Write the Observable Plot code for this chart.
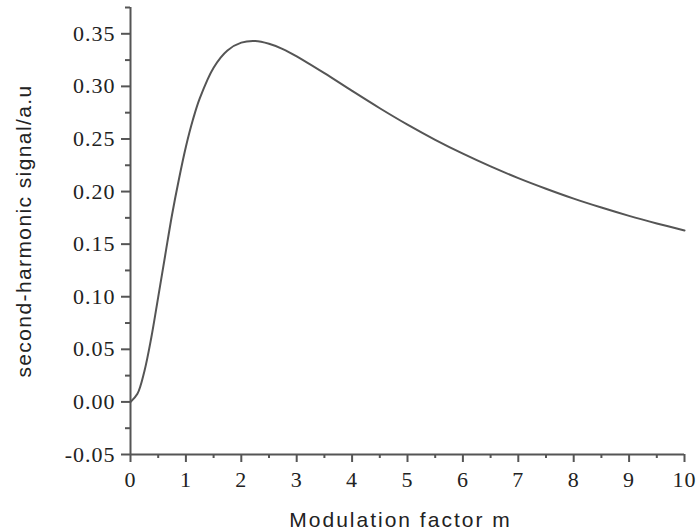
<!DOCTYPE html>
<html>
<head>
<meta charset="utf-8">
<script src="https://cdn.jsdelivr.net/npm/d3@7"></script>
<script src="https://cdn.jsdelivr.net/npm/@observablehq/plot@0.6"></script>
<style>
  html, body { margin: 0; padding: 0; background: #fff; }
  g[aria-label="x-axis tick label"] text, g[aria-label="y-axis tick label"] text { font-family: "Liberation Serif", serif; letter-spacing: 1px; }
</style>
</head>
<body>
<div id="chart"></div>
<script>
// Modulation factor m (x) and second-harmonic signal (y)
const mValues = [0, 0.125, 0.25, 0.375, 0.5, 0.625, 0.75, 0.875, 1, 1.125, 1.25, 1.5, 1.75, 2, 2.25, 2.5, 2.75, 3, 3.5, 4, 4.5, 5, 5.5, 6, 6.5, 7, 7.5, 8, 8.5, 9, 9.5, 10];
const signalValues = [0, 0.0077, 0.029, 0.061, 0.0997, 0.139, 0.178, 0.212, 0.2426, 0.268, 0.2886, 0.3178, 0.3342, 0.3416, 0.3431, 0.3405, 0.3355, 0.3286, 0.3126, 0.2957, 0.2792, 0.2636, 0.2492, 0.2360, 0.2239, 0.2128, 0.2027, 0.1933, 0.1848, 0.1769, 0.1697, 0.1630];
const xMajorTicks = [0, 1, 2, 3, 4, 5, 6, 7, 8, 9, 10];
const xMinorTicks = [0.5, 1.5, 2.5, 3.5, 4.5, 5.5, 6.5, 7.5, 8.5, 9.5];
const yMajorTicks = [-0.05, 0, 0.05, 0.10, 0.15, 0.20, 0.25, 0.30, 0.35];
const yMinorTicks = [-0.025, 0.025, 0.075, 0.125, 0.175, 0.225, 0.275, 0.325, 0.375];
const xLabel = "Modulation factor m";
const yLabel = "second-harmonic signal/a.u";

const data = mValues.map((m, i) => ({m, s: signalValues[i]}));
const axisColor = "#555";

const chart = Plot.plot({
  width: 696,
  height: 532,
  marginLeft: 130,
  marginRight: 12,
  marginTop: 7,
  marginBottom: 78,
  style: {fontFamily: "Liberation Sans, Arial, sans-serif", color: "#222", background: "#fff"},
  x: {domain: [0, 10]},
  y: {domain: [-0.05, 0.375]},
  marks: [
    Plot.axisX(xMinorTicks, {tickSize: 4, tickFormat: () => "", stroke: axisColor, strokeWidth: 2, label: null}),
    Plot.axisY(yMinorTicks, {tickSize: 5, tickFormat: () => "", stroke: axisColor, strokeWidth: 2, label: null}),
    Plot.axisX(xMajorTicks, {tickSize: 8, tickPadding: 9, tickFormat: d => String(d), fontSize: 22, stroke: axisColor, strokeWidth: 2, label: null}),
    Plot.axisY(yMajorTicks, {tickSize: 9, tickPadding: 6, tickFormat: d => d.toFixed(2), fontSize: 22, stroke: axisColor, strokeWidth: 2, label: null}),
    Plot.ruleY([-0.05], {stroke: axisColor, strokeWidth: 2}),
    Plot.ruleX([0], {stroke: axisColor, strokeWidth: 2}),
    Plot.line(data, {x: "m", y: "s", stroke: "#555", strokeWidth: 2, curve: "catmull-rom"}),
    Plot.text([xLabel], {frameAnchor: "bottom", textAnchor: "middle", dx: -7, dy: 72, lineAnchor: "bottom", fontSize: 21, fill: "#222"}),
    Plot.text([yLabel], {frameAnchor: "left", textAnchor: "middle", dx: -106, rotate: -90, lineAnchor: "middle", fontSize: 21, fill: "#222"})
  ]
});
d3.select(chart).selectAll("text").each(function () {
  const t = this.textContent;
  if (t === xLabel) d3.select(this).style("letter-spacing", "2px");
  if (t === yLabel) d3.select(this).style("letter-spacing", "1.4px");
});
document.getElementById("chart").appendChild(chart);
</script>
</body>
</html>
